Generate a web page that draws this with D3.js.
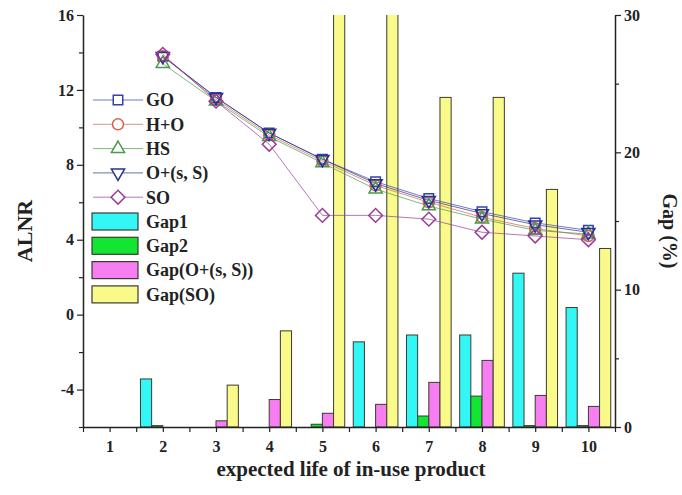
<!DOCTYPE html>
<html>
<head>
<meta charset="utf-8">
<script src="https://cdn.jsdelivr.net/npm/d3@7"></script>
<style>
  html, body { margin: 0; padding: 0; background: #fff; }
  svg { display: block; }
  text { font-family: "Liberation Serif", "Times New Roman", serif; font-weight: bold; fill: #222; }
</style>
</head>
<body>
<script>
// expected life of in-use product (x categories)
const years = [1, 2, 3, 4, 5, 6, 7, 8, 9, 10];

// ALNR series (left axis); no value at year 1
const alnrGO   = [null, 13.8, 11.6, 9.7, 8.3, 7.1, 6.2, 5.5, 4.9, 4.5];
const alnrHO   = [null, 13.8, 11.5, 9.6, 8.2, 6.9, 6.0, 5.2, 4.6, 4.2];
const alnrHS   = [null, 13.4, 11.4, 9.5, 8.1, 6.7, 5.8, 5.1, 4.5, 4.3];
const alnrOsS  = [null, 13.8, 11.6, 9.7, 8.3, 7.0, 6.1, 5.4, 4.8, 4.4];
const alnrSO   = [null, 13.9, 11.4, 9.1, 5.3, 5.3, 5.1, 4.4, 4.2, 4.0];

// Gap (%) series (right axis)
const gap1     = [0, 3.5, 0, 0, 0, 6.2, 6.7, 6.7, 11.2, 8.7];
const gap2     = [0, 0.1, 0, 0, 0.2, 0, 0.8, 2.25, 0.1, 0.1];
const gapOsS   = [0, 0, 0.45, 2.0, 1.0, 1.65, 3.25, 4.85, 2.3, 1.5];
const gapSO    = [0, 0, 3.05, 7.0, 32, 32, 24.0, 24.0, 17.3, 13.0];

// tick values
const leftTicks  = [-4, 0, 4, 8, 12, 16];
const rightTicks = [0, 10, 20, 30];

const W = 682, H = 495;
const svg = d3.select("body").append("svg").attr("width", W).attr("height", H);

const x  = d3.scaleLinear().domain([0.5, 10.5]).range([83, 615]);
const yL = d3.scaleLinear().domain([-6, 16]).range([427, 15]);
const yR = d3.scaleLinear().domain([0, 30]).range([427, 15]);

svg.append("defs").append("clipPath").attr("id", "plot")
  .append("rect").attr("x", 83).attr("y", 15).attr("width", 532).attr("height", 412);

// ---- bars ----
const barSeries = [
  { name: "Gap1",          values: gap1,   fill: "#33f6f6" },
  { name: "Gap2",          values: gap2,   fill: "#12e632" },
  { name: "Gap(O+(s, S))", values: gapOsS, fill: "#f77ef0" },
  { name: "Gap(SO)",       values: gapSO,  fill: "#fafa8a" }
];
const barW = x(0.21) - x(0);
const barG = svg.append("g").attr("clip-path", "url(#plot)");
barSeries.forEach((s, i) => {
  barG.selectAll(null).data(years.map((yv, k) => ({ yv, v: s.values[k] })).filter(d => d.v > 0))
    .join("rect")
    .attr("x", d => x(d.yv) + (i - 2) * barW)
    .attr("y", d => yR(d.v))
    .attr("width", barW)
    .attr("height", d => yR(0) - yR(d.v))
    .attr("fill", s.fill)
    .attr("stroke", "#3a3a30")
    .attr("stroke-width", 1);
});

// ---- lines ----
const symSquare  = d3.symbol().type(d3.symbolSquare).size(90);
const symCircle  = d3.symbol().type(d3.symbolCircle).size(95);
const symTri     = d3.symbol().type(d3.symbolTriangle).size(75);
// diamond as a square turned 45 degrees
const symDiamond = d3.symbol().type(d3.symbolSquare).size(95);
const lineSeries = [
  { name: "GO",        values: alnrGO,  color: "#3340b0", sym: symSquare,  rot: 0 },
  { name: "H+O",       values: alnrHO,  color: "#d9604f", sym: symCircle,  rot: 0 },
  { name: "HS",        values: alnrHS,  color: "#4a9a4a", sym: symTri,     rot: 0 },
  { name: "O+(s, S)",  values: alnrOsS, color: "#263290", sym: symTri,     rot: 180 },
  { name: "SO",        values: alnrSO,  color: "#9a3a9a", sym: symDiamond, rot: 45 }
];
const line = d3.line().defined(d => d.v != null).x(d => x(d.yv)).y(d => yL(d.v));
lineSeries.forEach(s => {
  const pts = years.map((yv, k) => ({ yv, v: s.values[k] }));
  svg.append("path").datum(pts).attr("d", line)
    .attr("fill", "none").attr("stroke", s.color).attr("stroke-opacity", 0.7).attr("stroke-width", 1);
});
lineSeries.forEach(s => {
  const pts = years.map((yv, k) => ({ yv, v: s.values[k] })).filter(d => d.v != null);
  svg.selectAll(null).data(pts).join("path")
    .attr("d", s.sym)
    .attr("transform", d => `translate(${x(d.yv)},${yL(d.v)}) rotate(${s.rot})`)
    .attr("fill", "none").attr("stroke", s.color).attr("stroke-width", 1.5);
});

// ---- axes ----
const axisStyle = g => {
  g.select(".domain").attr("stroke", "#222").attr("stroke-width", 1.5);
  g.selectAll(".tick line").attr("stroke", "#222").attr("stroke-width", 1.2);
  g.selectAll(".tick text").style("font-size", "16px").style("font-family", "Liberation Serif").style("font-weight", "bold").attr("fill", "#222");
};

// bottom axis: major ticks at integers, minor at halves
svg.append("g").attr("transform", "translate(0,427)")
  .call(d3.axisBottom(x).tickValues(d3.range(0.5, 10.51, 0.5)).tickSize(5).tickSizeOuter(0)
    .tickFormat(d => Number.isInteger(d) ? d : ""))
  .call(axisStyle)
  .call(g => g.selectAll(".tick text").attr("dy", "1.05em"));

// left axis
svg.append("g").attr("transform", "translate(83,0)")
  .call(d3.axisLeft(yL).tickValues(d3.range(-6, 16.01, 2)).tickSize(6).tickSizeOuter(0)
    .tickFormat(d => leftTicks.includes(d) ? d : ""))
  .call(axisStyle)
  .call(g => g.selectAll(".tick line").attr("x2", d => leftTicks.includes(d) ? -6 : -4));

// right axis
svg.append("g").attr("transform", "translate(615,0)")
  .call(d3.axisRight(yR).tickValues(d3.range(0, 30.01, 5)).tickSize(6).tickSizeOuter(0)
    .tickFormat(d => rightTicks.includes(d) ? d : ""))
  .call(axisStyle)
  .call(g => g.selectAll(".tick line").attr("x2", d => rightTicks.includes(d) ? 6 : 4));

// axis titles
svg.append("text").attr("transform", "translate(32,231) rotate(-90)")
  .attr("text-anchor", "middle").style("font-size", "22px").text("ALNR");
svg.append("text").attr("transform", "translate(663,231) rotate(90)")
  .attr("text-anchor", "middle").style("font-size", "20px").text("Gap (%)");
svg.append("text").attr("x", 351).attr("y", 476)
  .attr("text-anchor", "middle").style("font-size", "21px").text("expected life of in-use product");

// ---- legend ----
const leg = svg.append("g");
const step = 24.3;
lineSeries.forEach((s, i) => {
  const cy = 100 + i * step;
  leg.append("line").attr("x1", 93).attr("x2", 143).attr("y1", cy).attr("y2", cy)
    .attr("stroke", s.color).attr("stroke-opacity", 0.7);
  leg.append("path").attr("d", s.sym).attr("transform", `translate(118,${cy}) rotate(${s.rot})`)
    .attr("fill", "#fff").attr("stroke", s.color).attr("stroke-width", 1.5);
  leg.append("text").attr("x", 146).attr("y", cy).attr("dy", "0.35em").style("font-size", "18px").text(s.name);
});
barSeries.forEach((s, i) => {
  const cy = 100 + (i + 5) * step;
  leg.append("rect").attr("x", 92).attr("y", cy - 8.5).attr("width", 46).attr("height", 17)
    .attr("fill", s.fill).attr("stroke", "#3a3a30").attr("stroke-width", 1.2);
  leg.append("text").attr("x", 146).attr("y", cy).attr("dy", "0.35em").style("font-size", "18px").text(s.name);
});
</script>
</body>
</html>
